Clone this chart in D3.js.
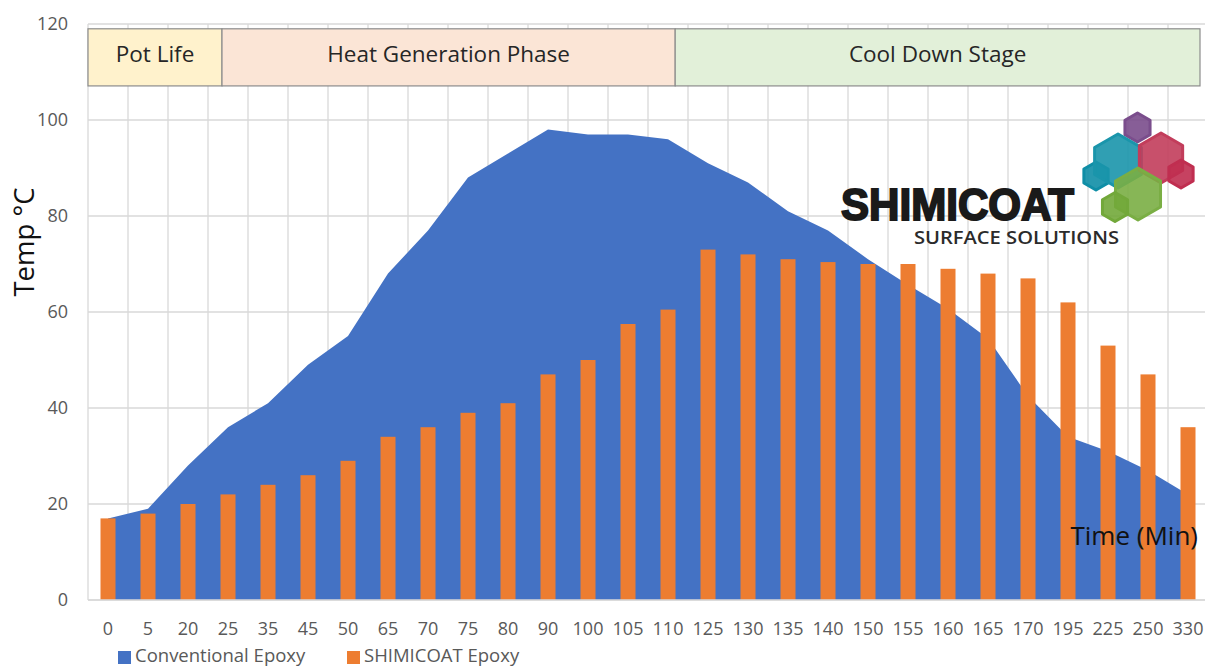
<!DOCTYPE html>
<html>
<head>
<meta charset="utf-8">
<script src="https://cdn.jsdelivr.net/npm/d3@7"></script>
<style>
  html, body { margin: 0; padding: 0; background: #fff; }
  svg { display: block; }
</style>
</head>
<body>
<svg id="chart" width="1205" height="667"></svg>
<script>
// ---------- DATA ----------
const categories = ["0","5","20","25","35","45","50","65","70","75","80","90","100","105","110","125","130","135","140","150","155","160","165","170","195","225","250","330"];
const conventional = [17,19,28,36,41,49,55,68,77,88,93,98,97,97,96,91,87,81,77,71,65.7,60.7,54.5,42.5,34,31,27,22];
const shimicoat = [17,18,20,22,24,26,29,34,36,39,41,47,50,57.5,60.5,73,72,71,70.4,70,70,69,68,67,62,53,47,36];
const yTicks = [0,20,40,60,80,100,120];
const phaseLabels = ["Pot Life","Heat Generation Phase","Cool Down Stage"];
const phaseStart = [0, 3.35, 14.68];   // in category-band units
const phaseEnd = [3.35, 14.68, 27.8];
const phaseLow = 107.1, phaseHigh = 119; // in temperature units
const seriesNames = ["Conventional Epoxy","SHIMICOAT Epoxy"];

// ---------- LAYOUT ----------
const svg = d3.select("#chart");
const mLeft = 88, mRight = 1208, mTop = 24, mBottom = 600;
const font = "'Open Sans', 'Segoe UI', sans-serif";
const blue = "#4472c4", orange = "#ed7d31";

const x = d3.scaleBand().domain(categories).range([mLeft, mRight]).paddingInner(0).paddingOuter(0);
const xi = d3.scaleLinear().domain([0, categories.length]).range([mLeft, mRight]);
const y = d3.scaleLinear().domain([0, 120]).range([mBottom, mTop]);

// gridlines
const grid = svg.append("g");
grid.selectAll("line.h").data(yTicks).enter().append("line").attr("class", "h")
  .attr("x1", mLeft).attr("x2", mRight)
  .attr("y1", d => y(d)).attr("y2", d => y(d))
  .attr("stroke", "#d9d9d9").attr("stroke-width", 1.3);
grid.selectAll("line.v").data(d3.range(categories.length + 1)).enter().append("line").attr("class", "v")
  .attr("x1", d => xi(d)).attr("x2", d => xi(d))
  .attr("y1", y(120)).attr("y2", y(0))
  .attr("stroke", "#d9d9d9").attr("stroke-width", 1.3);

// area
const cx = d => x(d) + x.bandwidth() / 2;
const area = d3.area()
  .x((d, i) => cx(categories[i]))
  .y0(y(0))
  .y1(d => y(d));
svg.append("path").datum(conventional).attr("d", area).attr("fill", blue);

// bars
const bw = x.bandwidth() * 0.375;
svg.append("g").selectAll("rect").data(shimicoat).enter().append("rect")
  .attr("x", (d, i) => cx(categories[i]) - bw / 2)
  .attr("width", bw)
  .attr("y", d => y(d))
  .attr("height", d => y(0) - y(d))
  .attr("fill", orange);

// bottom axis line
svg.append("line").attr("x1", mLeft).attr("x2", mRight).attr("y1", y(0)).attr("y2", y(0))
  .attr("stroke", "#d9d9d9").attr("stroke-width", 1.3);

// y axis labels
const yAxis = d3.axisLeft(y).tickValues(yTicks).tickSize(0).tickPadding(20);
const gy = svg.append("g").attr("transform", `translate(${mLeft},0)`).call(yAxis);
gy.select(".domain").remove();
gy.selectAll("text").attr("font-family", font).attr("font-size", 18).attr("fill", "#595959");

// x axis labels
const xAxis = d3.axisBottom(x).tickSize(0).tickPadding(22);
const gx = svg.append("g").attr("transform", `translate(0,${mBottom})`).call(xAxis);
gx.select(".domain").remove();
gx.selectAll("text").attr("font-family", font).attr("font-size", 18).attr("fill", "#595959");

// phase boxes
const ph = svg.append("g").selectAll("g").data(phaseLabels).enter().append("g");
const phaseFill = ["#fff2cc", "#fbe5d6", "#e2f0d9"];
ph.append("rect")
  .attr("x", (d, i) => xi(phaseStart[i]))
  .attr("width", (d, i) => xi(phaseEnd[i]) - xi(phaseStart[i]))
  .attr("y", y(phaseHigh))
  .attr("height", y(phaseLow) - y(phaseHigh))
  .attr("fill", (d, i) => phaseFill[i])
  .attr("stroke", "#8c8c8c").attr("stroke-width", 1.2);
ph.append("text")
  .attr("x", (d, i) => (xi(phaseStart[i]) + xi(phaseEnd[i])) / 2)
  .attr("y", (y(phaseHigh) + y(phaseLow)) / 2 + 5)
  .attr("text-anchor", "middle")
  .attr("font-family", font).attr("font-size", 22.5).attr("fill", "#262626")
  .text(d => d);

// axis titles
svg.append("text")
  .attr("transform", `translate(34,242) rotate(-90)`)
  .attr("text-anchor", "middle")
  .attr("font-family", font).attr("font-size", 27.5).attr("fill", "#111")
  .text("Temp °C");
svg.append("text")
  .attr("x", 1198).attr("y", 545)
  .attr("text-anchor", "end")
  .attr("font-family", font).attr("font-size", 26).attr("fill", "#111")
  .text("Time (Min)");

// logo
const logo = svg.append("g");
const hexes = [
  {cx: 1137.5, cy: 127.5, r: 14.5, c: "#7a4d8c"},
  {cx: 1096, cy: 176, r: 14, c: "#0f8ea6"},
  {cx: 1118, cy: 161, r: 27, c: "#1a95ab"},
  {cx: 1161, cy: 158, r: 25, c: "#c23d5b"},
  {cx: 1181, cy: 174, r: 14, c: "#c02e50"},
  {cx: 1138, cy: 194, r: 26, c: "#7aae44"},
  {cx: 1115, cy: 207, r: 14.5, c: "#72a83a"}
];
const hexPath = h => {
  const pts = d3.range(6).map(k => {
    const a = Math.PI / 3 * k - Math.PI / 2;
    return [h.cx + h.r * Math.cos(a), h.cy + h.r * Math.sin(a)];
  });
  return "M" + pts.map(p => p.join(",")).join("L") + "Z";
};
logo.selectAll("path").data(hexes).enter().append("path")
  .attr("d", hexPath).attr("fill", d => d.c).attr("fill-opacity", 0.9)
  .attr("stroke", d => d.c).attr("stroke-width", 3).attr("stroke-linejoin", "round");
logo.append("text")
  .attr("x", 841).attr("y", 220)
  .attr("textLength", 233).attr("lengthAdjust", "spacingAndGlyphs")
  .attr("font-family", "'Liberation Sans', Arial, sans-serif").attr("font-weight", "bold")
  .attr("font-size", 45).attr("fill", "#1a1a1a").attr("stroke", "#1a1a1a").attr("stroke-width", 2)
  .text("SHIMICOAT");
logo.append("text")
  .attr("x", 914).attr("y", 244)
  .attr("textLength", 205).attr("lengthAdjust", "spacingAndGlyphs")
  .attr("font-family", font).attr("font-weight", 600).attr("font-size", 18.5).attr("fill", "#2b2b2b")
  .text("SURFACE SOLUTIONS");

// legend
const lg = svg.append("g");
const legX = [118, 347];
const legC = [blue, orange];
lg.selectAll("rect").data(seriesNames).enter().append("rect")
  .attr("x", (d, i) => legX[i]).attr("y", 651).attr("width", 13).attr("height", 13)
  .attr("fill", (d, i) => legC[i]);
lg.selectAll("text").data(seriesNames).enter().append("text")
  .attr("x", (d, i) => legX[i] + 17).attr("y", 662)
  .attr("font-family", font).attr("font-size", 18.5).attr("fill", "#595959")
  .text(d => d);
</script>
</body>
</html>
